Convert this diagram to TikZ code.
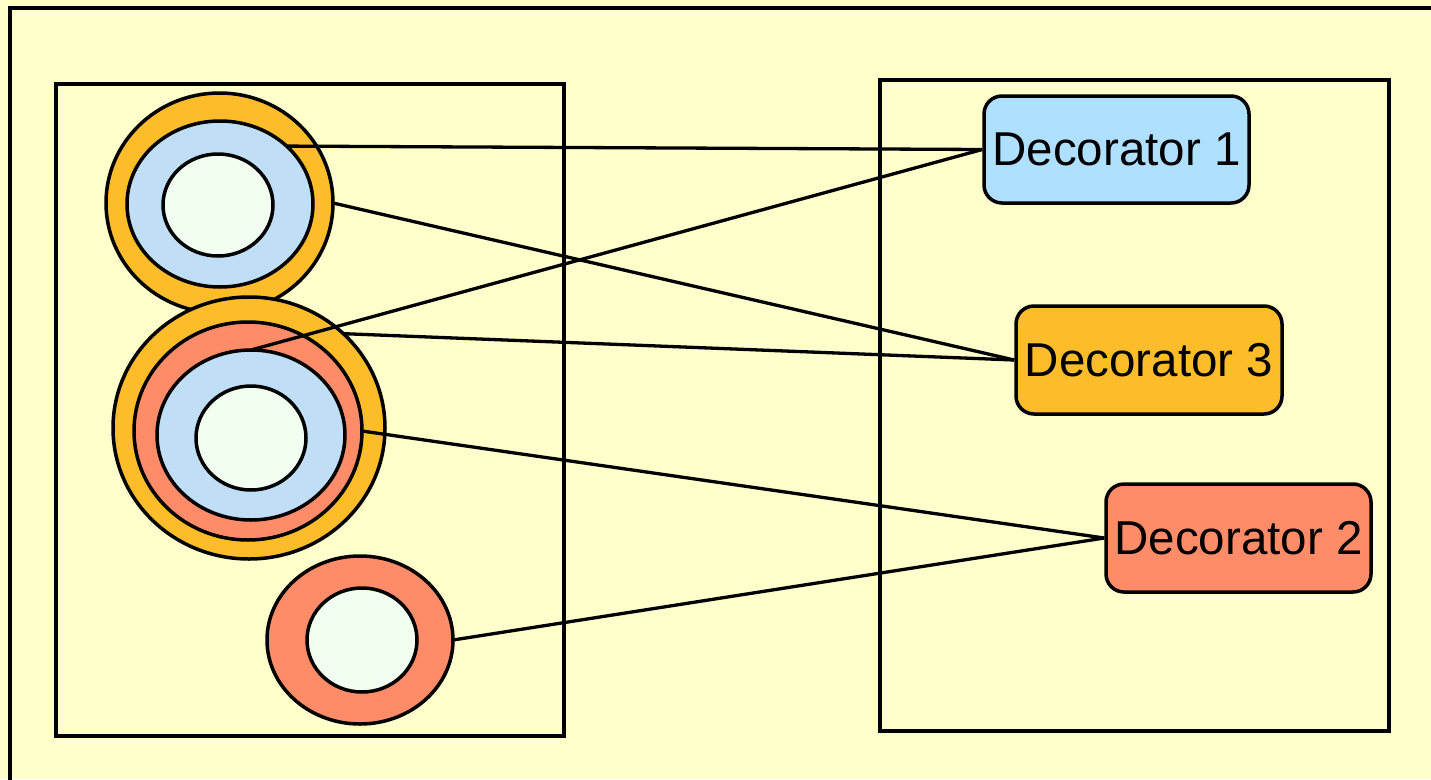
\documentclass[tikz,border=0pt]{standalone}
\usepackage{fontspec}
\setmainfont{Liberation Sans}
\usetikzlibrary{shapes.geometric}
\definecolor{bgyellow}{HTML}{FFFFCC}
\definecolor{ringorange}{HTML}{FDBD2B}
\definecolor{ringblue}{HTML}{C0DEF6}
\definecolor{decblue}{HTML}{B0E0FF}
\definecolor{ringsalmon}{HTML}{FF8C69}
\definecolor{corefill}{HTML}{F0FFF0}
\begin{document}
\begin{tikzpicture}[x=1pt,y=-1pt,line width=3.5pt,
  ring/.style={ellipse,draw=black,inner sep=0pt,outer sep=0pt},
  deco/.style={draw=black,rounded corners=18pt,inner sep=0pt,
    font=\fontsize{47.5}{57}\selectfont,text=black},
  link/.style={draw=black,line width=3.3pt},
  frame/.style={draw=black,line width=3.3pt}]
\useasboundingbox (0,0) rectangle (1431,779);
\fill[bgyellow] (0,0) rectangle (1431,779);
% outer frame (only left and top edges visible)
\draw[frame] (10,800) -- (10,8) -- (1450,8);
% two containers
\draw[frame] (56,84) rectangle (564,736);
\draw[frame] (880,80) rectangle (1389,731);
% top component
\node[ring,fill=ringorange,minimum width=227pt,minimum height=220pt] (o1) at (219.5,203) {};
\node[ring,fill=ringblue,minimum width=186pt,minimum height=166pt] (b1) at (220,204) {};
\node[ring,fill=corefill,minimum width=110pt,minimum height=102pt] (c1) at (218,205) {};
% middle component
\node[ring,fill=ringorange,minimum width=272pt,minimum height=262pt] (o2) at (249,428) {};
\node[ring,fill=ringsalmon,minimum width=228pt,minimum height=218pt] (s2) at (248,431) {};
\node[ring,fill=ringblue,minimum width=188pt,minimum height=170pt] (b2) at (251,435) {};
\node[ring,fill=corefill,minimum width=110pt,minimum height=104pt] (c2) at (251,438) {};
% bottom component
\node[ring,fill=ringsalmon,minimum width=186pt,minimum height=168pt] (s3) at (360,640) {};
\node[ring,fill=corefill,minimum width=110pt,minimum height=104pt] (c3) at (362,640) {};
% decorators
\node[deco,fill=decblue,minimum width=265pt,minimum height=107pt] (d1) at (1116.5,149.5) {Decorator 1};
\node[deco,fill=ringorange,minimum width=266pt,minimum height=108pt] (d3) at (1149,360) {Decorator 3};
\node[deco,fill=ringsalmon,minimum width=265pt,minimum height=108pt] (d2) at (1238.5,538) {Decorator 2};
% links
\draw[link] (b1.41) -- (d1.west);
\draw[link] (b2.90) -- (d1.west);
\draw[link] (o1.east) -- (d3.west);
\draw[link] (o2.45) -- (d3.west);
\draw[link] (s2.east) -- (d2.west);
\draw[link] (s3.east) -- (d2.west);
\end{tikzpicture}
\end{document}
